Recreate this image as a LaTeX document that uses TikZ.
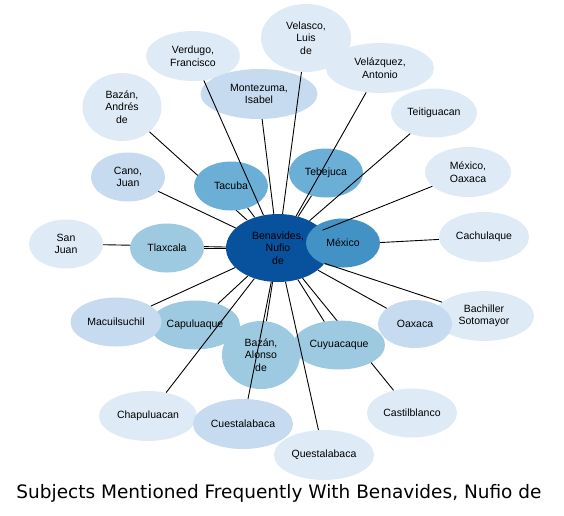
\documentclass[tikz,border=0pt]{standalone}
\usepackage{fontspec}
\setmainfont{Liberation Sans}
\newfontfamily\titlefont{DejaVu Sans}
\usetikzlibrary{shapes.geometric,backgrounds}
\definecolor{tone0}{HTML}{08519C}
\definecolor{tone1}{HTML}{4292C6}
\definecolor{tone2}{HTML}{6BAED6}
\definecolor{tone3}{HTML}{9ECAE1}
\definecolor{tone4}{HTML}{C6DBEF}
\definecolor{tone5}{HTML}{DEEBF7}

\begin{document}
\begin{tikzpicture}[x=1pt,y=-1pt,
  bub/.style={ellipse,inner sep=0pt,align=center,font=\fontsize{10.5}{12.5}\selectfont},
  link/.style={line width=0.9pt}]
\useasboundingbox (0,0) rectangle (564,515);
% outer ring
\node[bub,fill=tone5,minimum width=94pt,minimum height=50pt] (verdugo) at (193,56) {Verdugo,\\Francisco};
\node[bub,fill=tone5,minimum width=90pt,minimum height=68pt] (velasco) at (306,38) {Velasco,\\Luis\\de};
\node[bub,fill=tone4,minimum width=117pt,minimum height=50pt] (montezuma) at (259,94) {Montezuma,\\Isabel};
\node[bub,fill=tone5,minimum width=108pt,minimum height=50pt] (velazquez) at (380,68) {Velázquez,\\Antonio};
\node[bub,fill=tone5,minimum width=86pt,minimum height=49pt] (teiti) at (434,113) {Teitiguacan};
\node[bub,fill=tone5,minimum width=86pt,minimum height=50pt] (mexoax) at (468,172) {México,\\Oaxaca};
\node[bub,fill=tone5,minimum width=90pt,minimum height=50pt] (cachulaque) at (484,237) {Cachulaque};
\node[bub,fill=tone5,minimum width=100pt,minimum height=50pt] (bachiller) at (484,316) {Bachiller\\Sotomayor};
\node[bub,fill=tone4,minimum width=74pt,minimum height=48pt] (oaxaca) at (415,324) {Oaxaca};
\node[bub,fill=tone5,minimum width=90pt,minimum height=49pt] (castil) at (412,413) {Castilblanco};
\node[bub,fill=tone5,minimum width=100pt,minimum height=50pt] (questa) at (324,455) {Questalabaca};
\node[bub,fill=tone5,minimum width=98pt,minimum height=50pt] (chapu) at (148,416) {Chapuluacan};
\node[bub,fill=tone4,minimum width=100pt,minimum height=50pt] (cuesta) at (243,424) {Cuestalabaca};
\node[bub,fill=tone3,minimum width=90pt,minimum height=49pt] (capu) at (195,325) {Capuluaque};
\node[bub,fill=tone4,minimum width=91pt,minimum height=49pt] (macui) at (116,322) {Macuilsuchil};
\node[bub,fill=tone5,minimum width=74pt,minimum height=49pt] (sanjuan) at (66,244) {San\\Juan};
\node[bub,fill=tone4,minimum width=74pt,minimum height=49pt] (cano) at (128,177) {Cano,\\Juan};
\node[bub,fill=tone5,minimum width=79pt,minimum height=68pt] (andres) at (122,107) {Bazán,\\Andrés\\de};
% inner ring
\node[bub,fill=tone2,minimum width=74pt,minimum height=49pt] (tacuba) at (231,186) {Tacuba};
\node[bub,fill=tone2,minimum width=74pt,minimum height=49pt] (tebejuca) at (326,173) {Tebejuca};
\node[bub,fill=tone3,minimum width=74pt,minimum height=49pt] (tlaxcala) at (167,248) {Tlaxcala};
\node[bub,fill=tone3,minimum width=92pt,minimum height=49pt] (cuyua) at (339,345) {Cuyuacaque};
\node[bub,fill=tone3,minimum width=78pt,minimum height=68pt] (alonso) at (261,355) {Bazán,\\Alonso\\de};
\node[bub,fill=tone0,minimum width=104pt,minimum height=68pt] (nufio) at (278,248) {Benavides,\\Nufio\\de};
\node[bub,fill=tone1,minimum width=74pt,minimum height=49pt] (mexico) at (343,243) {México};
% spokes
\foreach \n in {verdugo,velasco,montezuma,velazquez,teiti,mexoax,bachiller,oaxaca,questa,cuesta,chapu,macui,cano,capu,alonso,cuyua,tacuba,tebejuca,tlaxcala}
  \draw[link] (nufio) -- (\n);
\begin{scope}[on background layer]
\foreach \n in {andres,castil,sanjuan,cachulaque,mexico}
  \draw[link] (nufio) -- (\n);
\end{scope}
\node[font=\titlefont\fontsize{18.5}{22}\selectfont] (title) at (279,493) {Subjects Mentioned Frequently With Benavides, Nufio de};
\end{tikzpicture}
\end{document}
